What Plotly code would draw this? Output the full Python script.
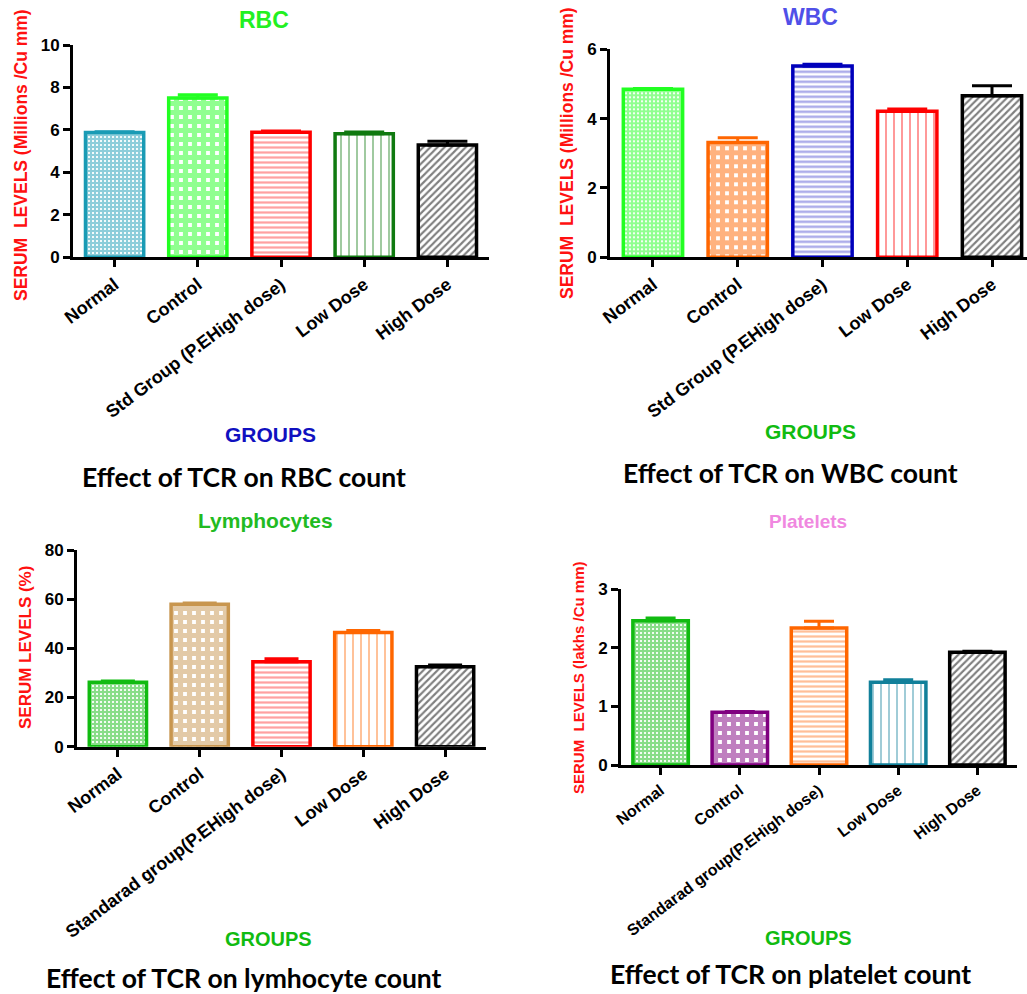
import plotly.graph_objects as go

W, H = 1027, 994

# ---------------- data ----------------
groups_a = ["Normal", "Control", "Std Group (P.EHigh dose)", "Low Dose", "High Dose"]
groups_b = ["Normal", "Control", "Standarad group(P.EHigh dose)", "Low Dose", "High Dose"]

rbc_mean = [5.88, 7.50, 5.89, 5.82, 5.29]
rbc_err = [0.03, 0.16, 0.06, 0.08, 0.18]

wbc_mean = [4.85, 3.31, 5.52, 4.21, 4.66]
wbc_err = [0.02, 0.14, 0.05, 0.07, 0.29]

lym_mean = [26.2, 57.9, 34.5, 46.4, 32.5]
lym_err = [0.5, 0.5, 1.3, 0.9, 0.7]

plt_mean = [2.46, 0.90, 2.335, 1.41, 1.92]
plt_err = [0.045, 0.01, 0.115, 0.045, 0.02]

# ---------------- styles ----------------
rbc_colors = ["#1a9bb5", "#22ff22", "#ff0000", "#107a10", "#000000"]
wbc_colors = ["#22ff22", "#ff6600", "#0000bb", "#ff0000", "#000000"]
lym_colors = ["#11bb11", "#c8964f", "#ff0000", "#ff6600", "#000000"]
plt_colors = ["#11bb11", "#800080", "#ff6600", "#11809a", "#000000"]

light = {"#ff0000": "#ff4444", "#0000bb": "#4848d0", "#ff6600": "#ff7f33"}


def pattern_for(i, color):
    if i == 0:
        return dict(shape="+", fgcolor=color, bgcolor="white", size=4, solidity=0.8)
    if i == 1:
        return dict(shape="+", fgcolor=color, bgcolor="white", size=9, solidity=0.82)
    if i == 2:
        return dict(shape="-", fgcolor=light.get(color, color), bgcolor="white", size=5, solidity=0.45)
    if i == 3:
        return dict(shape="|", fgcolor=color, bgcolor="white", size=8, solidity=0.2)
    return dict(shape="/", fgcolor=color, bgcolor="white", size=5, solidity=0.42)


fig = go.Figure()

panels = [
    dict(cats=groups_a, mean=rbc_mean, err=rbc_err, colors=rbc_colors, ax="", capw=20, xfs=18,
         xd=(73, 489), yd=(45, 257.3), xr=[-0.5, 4.5], yr=[0, 10], dt=2),
    dict(cats=groups_a, mean=wbc_mean, err=wbc_err, colors=wbc_colors, ax="2", capw=20, xfs=18,
         xd=(610, 1027), yd=(49.3, 257.3), xr=[-0.507, 4.413], yr=[0, 6], dt=2),
    dict(cats=groups_b, mean=lym_mean, err=lym_err, colors=lym_colors, ax="3", capw=17, xfs=18,
         xd=(77, 486), yd=(550, 746.7), xr=[-0.5, 4.5], yr=[0, 80], dt=20),
    dict(cats=groups_b, mean=plt_mean, err=plt_err, colors=plt_colors, ax="4", capw=15, xfs=16,
         xd=(621, 1017), yd=(589, 765), xr=[-0.5, 4.5], yr=[0, 3], dt=1),
]

FAM = "Liberation Sans"
tickfont = dict(family=FAM, size=17, color="black", weight="bold")

for p in panels:
    for i, cat in enumerate(p["cats"]):
        c = p["colors"][i]
        fig.add_trace(go.Bar(
            x=[cat], y=[p["mean"][i]], width=0.7,
            xaxis="x" + p["ax"], yaxis="y" + p["ax"],
            marker=dict(color="white", line=dict(color=c, width=3.5),
                        pattern=pattern_for(i, c)),
            error_y=dict(type="data", array=[p["err"][i]], arrayminus=[0], symmetric=False,
                         color=c, thickness=3, width=p["capw"]),
            showlegend=False, hoverinfo="x+y",
        ))
    xa = dict(domain=[p["xd"][0] / W, p["xd"][1] / W], range=p["xr"], type="category",
              categoryorder="array", categoryarray=p["cats"],
              anchor="y" + p["ax"], showline=True, linewidth=3, linecolor="black",
              ticks="outside", ticklen=7, tickwidth=3, tickcolor="black",
              tickangle=-37, tickfont=dict(family=FAM, size=p["xfs"], color="black", weight="bold"),
              showgrid=False, zeroline=False, fixedrange=True, automargin=False)
    ya = dict(domain=[1 - p["yd"][1] / H, 1 - p["yd"][0] / H], range=p["yr"], dtick=p["dt"],
              anchor="x" + p["ax"], showline=True, linewidth=3, linecolor="black",
              ticks="outside", ticklen=7, tickwidth=3, tickcolor="black",
              tickfont=tickfont, showgrid=False, zeroline=False, fixedrange=True,
              automargin=False)
    fig.update_layout(**{"xaxis" + p["ax"]: xa, "yaxis" + p["ax"]: ya})

fig.update_layout(barmode="overlay")


def ann(text, px, py, size, color, family=FAM, angle=0, weight="bold"):
    fig.add_annotation(text=text, x=px / W, y=1 - py / H, xref="paper", yref="paper",
                       xanchor="center", yanchor="middle", showarrow=False, textangle=angle,
                       font=dict(family=family, size=size, color=color, weight=weight))


# panel titles
ann("RBC", 264, 20, 23, "#22f022")
ann("WBC", 810, 17, 23, "#5050e8")
ann("Lymphocytes", 265, 520, 21, "#22bb22")
ann("Platelets", 808, 521, 19, "#f088e0")

# y titles
ann("SERUM&nbsp;&nbsp;LEVELS (Millions /Cu mm)", 21, 155, 17.5, "#ff1111", angle=-90)
ann("SERUM&nbsp;&nbsp;LEVELS (Millions /Cu mm)", 567, 153, 17.5, "#ff1111", angle=-90)
ann("SERUM LEVELS (%)", 25, 648, 17, "#ff1111", angle=-90)
ann("SERUM&nbsp;&nbsp;LEVELS (lakhs /Cu mm)", 578, 678, 15, "#ff1111", angle=-90)

# x titles
ann("GROUPS", 270, 435, 21, "#1010c0")
ann("GROUPS", 810, 432, 21, "#11bb11")
ann("GROUPS", 268, 939, 20, "#11bb11")
ann("GROUPS", 808, 938, 20, "#11bb11")

# captions
cap_font = "Lato, Open Sans, sans-serif"
ann("Effect of TCR on RBC count", 244, 477, 26.5, "black", family=cap_font)
ann("Effect of TCR on WBC count", 790, 473, 26.5, "black", family=cap_font)
ann("Effect of TCR on lymhocyte count", 244, 978, 26.5, "black", family=cap_font)
ann("Effect of TCR on platelet count", 790, 974, 26.5, "black", family=cap_font)

fig.update_layout(width=W, height=H, margin=dict(l=0, r=0, t=0, b=0, autoexpand=False),
                  paper_bgcolor="white", plot_bgcolor="white")

fig.write_html("out.html", config={"displayModeBar": False},
               post_script="document.body.style.margin='0';document.body.style.padding='0';")
